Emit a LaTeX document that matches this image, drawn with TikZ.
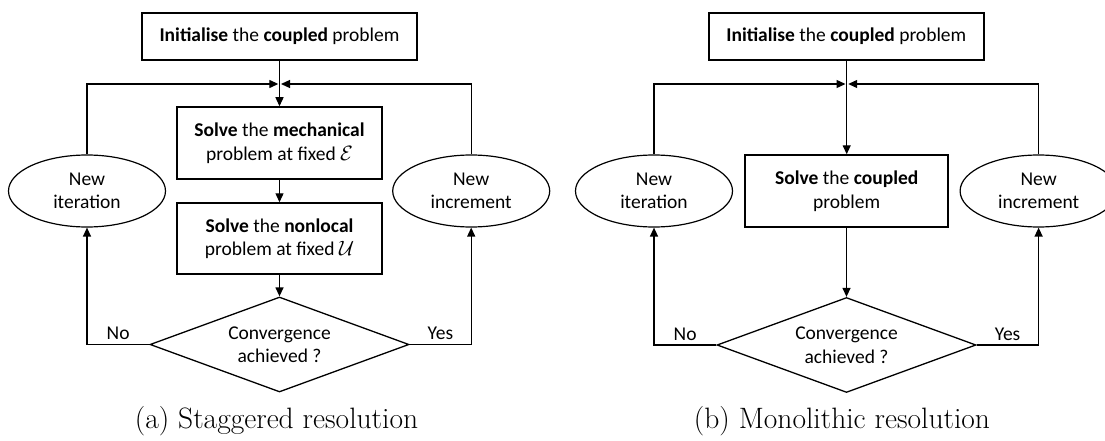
\documentclass[tikz,border=0pt]{standalone}
\usepackage{fontspec}
\setmainfont{Carlito}
\newfontfamily\capfont{Latin Modern Roman}
\usetikzlibrary{shapes.geometric,arrows.meta}
\begin{document}
\begin{tikzpicture}[x=1pt,y=-1pt,
  every node/.style={font=\fontsize{19.5}{23.5}\selectfont, align=center, inner sep=0pt},
  initbox/.style={draw, line width=2.2pt, minimum width=275pt, minimum height=47pt},
  solvebox/.style={draw, line width=1.5pt, minimum width=205pt, minimum height=72pt},
  loopell/.style={draw, ellipse, line width=1.2pt, minimum width=157pt, minimum height=72pt},
  testdiam/.style={draw, diamond, aspect=2.73, line width=1.3pt, minimum width=259pt, minimum height=95pt},
  flow/.style={line width=1.3pt, -{Triangle[length=9pt,width=8pt]}},
  branch/.style={anchor=base, yshift=5pt},
  caption/.style={font=\capfont\fontsize{29.5}{33}\selectfont, anchor=base}
]
\useasboundingbox (0,0) rectangle (1105,441);
\clip (0,0) rectangle (1105,441);

% ---------- (a) staggered scheme ----------
\node[initbox] (ainit) at (279.5,36.5) {\textbf{Initialise} the \textbf{coupled} problem};
\coordinate (ajoin) at (279.5,84);
\node[solvebox] (amech) at (279.5,143) {\textbf{Solve} the \textbf{mechanical}\\problem at fixed $\mathcal{E}$};
\node[solvebox, minimum height=71pt] (anonl) at (279.5,238.5) {\textbf{Solve} the \textbf{nonlocal}\\problem at fixed $\mathcal{U}$};
\node[testdiam] (atest) at (279.5,344.5) {Convergence\\achieved ?};
\node[loopell] (aiter) at (87,191) {New\\iteration};
\node[loopell] (aincr) at (471.2,191) {New\\increment};

\draw[flow] (ainit) -- (amech);
\draw[flow] (amech) -- (anonl);
\draw[flow] (anonl) -- (atest);
\draw[flow] (atest.west) -| node[branch, pos=.25] {No} (aiter);
\draw[flow] (atest.east) -| node[branch, pos=.25] {Yes} (aincr);
\draw[flow] (aiter) |- ([xshift=-1.2pt]ajoin);
\draw[flow] (aincr) |- ([xshift=1.5pt]ajoin);

\node[caption] (acap) at (276.5,428) {(a) Staggered resolution};

% ---------- (b) monolithic scheme ----------
\node[initbox] (binit) at (846.3,36.5) {\textbf{Initialise} the \textbf{coupled} problem};
\coordinate (bjoin) at (846.7,84);
\node[solvebox, minimum width=203pt, minimum height=72pt] (bsolve) at (846.7,191) {\textbf{Solve} the \textbf{coupled}\\problem};
\node[testdiam] (btest) at (846.5,345) {Convergence\\achieved ?};
\node[loopell] (biter) at (654,191) {New\\iteration};
\node[loopell] (bincr) at (1038.6,191) {New\\increment};

\draw[flow] (binit.south -| bjoin) -- (bsolve.north -| bjoin);
\draw[flow] (bsolve.south -| btest.north) -- (btest.north);
\draw[flow] (btest.west) -| node[branch, pos=.25] {No} (biter);
\draw[flow] (btest.east) -| node[branch, pos=.25] {Yes} (bincr);
\draw[flow] (biter) |- ([xshift=-1.2pt]bjoin);
\draw[flow] (bincr) |- ([xshift=1.5pt]bjoin);

\node[caption] (bcap) at (842,428) {(b) Monolithic resolution};
\end{tikzpicture}
\end{document}
